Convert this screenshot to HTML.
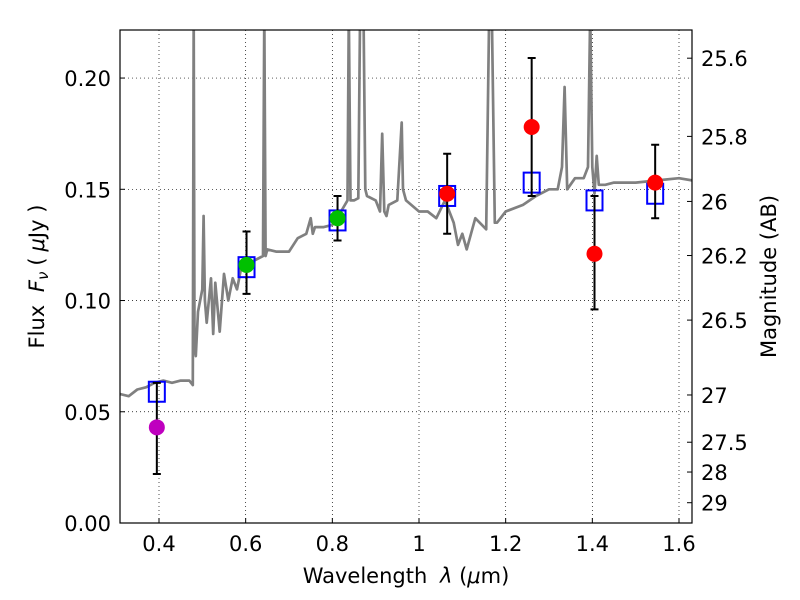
<!DOCTYPE html>
<html><head><meta charset="utf-8"><style>
body{margin:0;background:#fff}
svg{display:block;font-family:"DejaVu Sans","Liberation Sans",sans-serif}
</style></head><body>
<svg id="c" width="800" height="600"></svg>
<script>
const specX=[0.31,0.33,0.35,0.37,0.39,0.41,0.43,0.45,0.47,0.478,0.48,0.482,0.485,0.49,0.5,0.503,0.506,0.51,0.52,0.525,0.53,0.54,0.55,0.56,0.57,0.58,0.59,0.6,0.62,0.64,0.643,0.646,0.65,0.67,0.7,0.72,0.74,0.75,0.755,0.76,0.78,0.8,0.82,0.835,0.838,0.842,0.85,0.86,0.864,0.872,0.876,0.88,0.9,0.91,0.915,0.92,0.925,0.93,0.95,0.96,0.963,0.97,1.0,1.02,1.04,1.06,1.08,1.09,1.1,1.11,1.12,1.13,1.155,1.162,1.168,1.175,1.18,1.2,1.24,1.27,1.3,1.32,1.33,1.336,1.342,1.36,1.38,1.39,1.395,1.4,1.405,1.41,1.415,1.43,1.45,1.5,1.55,1.6,1.63];
const specY=[0.058,0.057,0.06,0.061,0.063,0.064,0.063,0.064,0.064,0.062,0.23,0.08,0.075,0.095,0.105,0.138,0.1,0.09,0.11,0.085,0.108,0.086,0.112,0.1,0.11,0.105,0.115,0.114,0.118,0.12,0.23,0.12,0.123,0.122,0.122,0.128,0.13,0.137,0.13,0.133,0.133,0.134,0.14,0.145,0.23,0.145,0.145,0.146,0.23,0.23,0.15,0.147,0.145,0.14,0.175,0.14,0.138,0.143,0.145,0.18,0.15,0.145,0.14,0.14,0.137,0.145,0.135,0.125,0.13,0.123,0.13,0.137,0.132,0.23,0.23,0.135,0.135,0.14,0.143,0.147,0.15,0.15,0.16,0.196,0.15,0.155,0.155,0.16,0.23,0.16,0.148,0.165,0.152,0.152,0.153,0.153,0.154,0.155,0.154];
const photX=[0.395,0.602,0.812,1.065,1.26,1.405,1.545];
const photY=[0.043,0.116,0.137,0.148,0.178,0.121,0.153];
const errLo=[0.022,0.103,0.127,0.130,0.147,0.096,0.137];
const errHi=[0.063,0.131,0.147,0.166,0.209,0.147,0.170];
const photColor=['#bf00bf','#00c000','#00c000','#ff0000','#ff0000','#ff0000','#ff0000'];
const modelX=[0.395,0.602,0.812,1.065,1.26,1.405,1.545];
const modelY=[0.059,0.115,0.136,0.147,0.153,0.145,0.148];
const xTicks=[0.4,0.6,0.8,1.0,1.2,1.4,1.6];
const xTickLabels=['0.4','0.6','0.8','1','1.2','1.4','1.6'];
const yTicks=[0,0.05,0.10,0.15,0.20];
const yTickLabels=['0.00','0.05','0.10','0.15','0.20'];
const magTicks=[25.6,25.8,26,26.2,26.5,27,27.5,28,29];

const L=120,R=692,T=30,B=523,X0=0.31,X1=1.63,Y0=0,Y1=0.2216;
const sx=v=>L+(v-X0)/(X1-X0)*(R-L);
const sy=v=>B-(v-Y0)/(Y1-Y0)*(B-T);
const svg=document.getElementById('c');
const NS='http://www.w3.org/2000/svg';
function mk(tag,attrs,parent){const e=document.createElementNS(NS,tag);for(const k in attrs)e.setAttribute(k,attrs[k]);(parent||svg).appendChild(e);return e;}
const clip=mk('clipPath',{id:'pc'});mk('rect',{x:L,y:T,width:R-L,height:B-T},clip);
xTicks.forEach((t,i)=>{
 const g=mk('line',{x1:sx(t),x2:sx(t),y1:T,y2:B,stroke:'#000','stroke-width':0.7,'stroke-dasharray':'1,3'});
 
 const tk=mk('line',{x1:sx(t),x2:sx(t),y1:B,y2:B-5,stroke:'#000'});
 
 const tx=mk('text',{x:sx(t),y:B+28,'font-size':21,'text-anchor':'middle'});tx.textContent=xTickLabels[i];
 
});
yTicks.forEach((t,i)=>{
 const g=mk('line',{x1:L,x2:R,y1:sy(t),y2:sy(t),stroke:'#000','stroke-width':0.7,'stroke-dasharray':'1,3'});
 
 const tk=mk('line',{x1:L,x2:L+5,y1:sy(t),y2:sy(t),stroke:'#000'});
 
 const tx=mk('text',{x:L-9,y:sy(t)+8,'font-size':21,'text-anchor':'end'});tx.textContent=yTickLabels[i];
 
});
magTicks.forEach(m=>{
 const f=Math.pow(10,(23.9-m)/2.5);const y=sy(f);
 const tk=mk('line',{x1:R,x2:R-5,y1:y,y2:y,stroke:'#000'});
 
 const tx=mk('text',{x:R+9,y:y+8,'font-size':21});tx.textContent=String(m);
 
});
const sp=mk('polyline',{points:specX.map((x,i)=>sx(x).toFixed(1)+','+sy(specY[i]).toFixed(1)).join(' '),fill:'none',stroke:'#808080','stroke-width':2.7,'clip-path':'url(#pc)','stroke-linejoin':'round'});

modelX.forEach((x,i)=>{
 const r=mk('rect',{x:sx(x)-8,y:sy(modelY[i])-10,width:16,height:20,fill:'none',stroke:'#0000ff','stroke-width':2});
 
});
photX.forEach((x,i)=>{
 const px=sx(x);
 const e=mk('path',{d:`M${px},${sy(errLo[i])}V${sy(errHi[i])}M${px-4},${sy(errLo[i])}h8M${px-4},${sy(errHi[i])}h8`,stroke:'#000','stroke-width':2,fill:'none'});
 
 const c=mk('circle',{cx:px,cy:sy(photY[i]),r:8,fill:photColor[i]});
 
});
const fr=mk('rect',{x:L,y:T,width:R-L,height:B-T,fill:'none',stroke:'#000','stroke-width':1.2});

const xl=mk('text',{x:(L+R)/2,y:583,'font-size':21,'text-anchor':'middle'});
xl.innerHTML='Wavelength  <tspan dx="6" font-style="italic">λ</tspan> (<tspan font-style="italic">μ</tspan>m)';

const yl=mk('text',{x:0,y:0,'font-size':21,'text-anchor':'middle',transform:`translate(44,${(T+B)/2}) rotate(-90)`});
yl.innerHTML='Flux <tspan dx="6" font-style="italic">F</tspan><tspan font-style="italic" font-size="15" dy="4">ν</tspan><tspan dy="-4" dx="6">(</tspan><tspan dx="6" font-style="italic">μ</tspan>Jy )';

const ml=mk('text',{x:0,y:0,'font-size':21,'text-anchor':'middle',transform:`translate(776,${(T+B)/2}) rotate(-90)`});
ml.textContent='Magnitude (AB)';

</script>
</body></html>
